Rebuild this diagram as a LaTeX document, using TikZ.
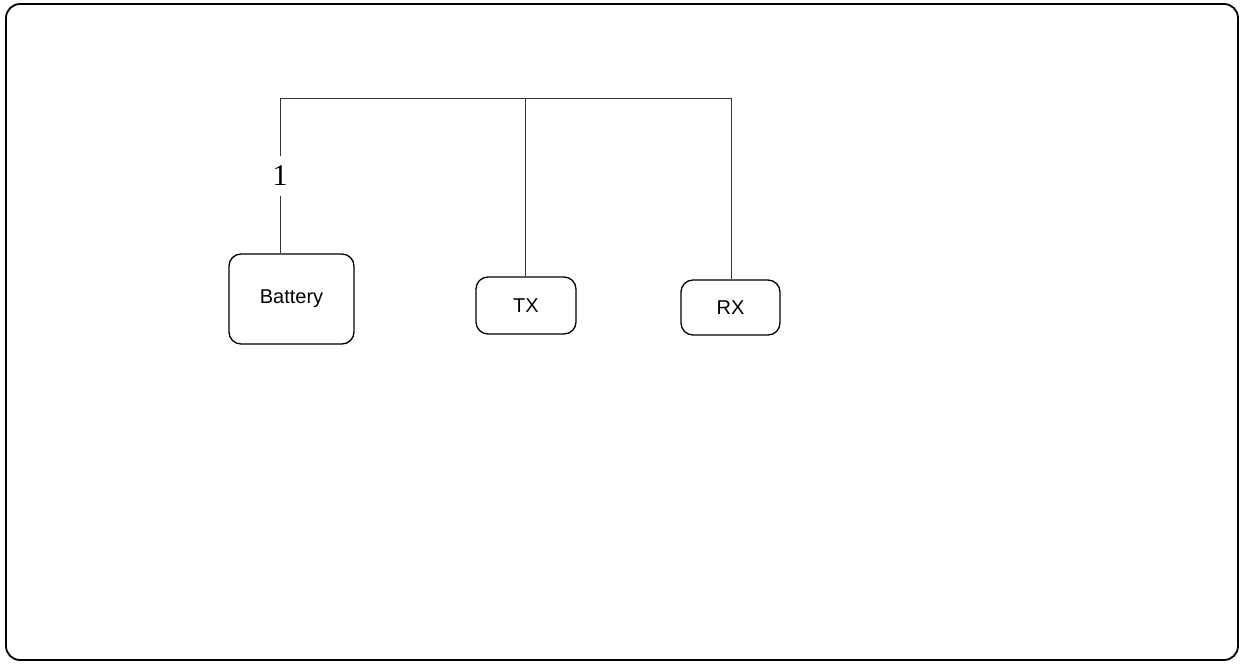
\documentclass[tikz,border=0pt]{standalone}
\usepackage{fontspec}
\newfontfamily\arialfont{Liberation Sans}
\newfontfamily\timesfont{Liberation Serif}
\begin{document}
\begin{tikzpicture}[x=1pt,y=-1pt,
  box/.style={draw=black,line width=1.3pt,rounded corners=12pt,inner sep=0pt,font=\arialfont\fontsize{20}{22}\selectfont},
  wire/.style={draw=black!80,line width=0.9pt},
  numlabel/.style={fill=white,inner sep=0pt,minimum height=40pt,font=\timesfont\fontsize{30}{32}\selectfont}]
\useasboundingbox (0,0) rectangle (1243,665);
\draw[line width=1.8pt,rounded corners=14pt] (6,4) rectangle (1238,660);
\node[box,minimum width=125pt,minimum height=90pt] (bat) at (291.5,299) {Battery};
\node[box,minimum width=100pt,minimum height=57pt] (tx) at (526,305.5) {TX};
\node[box,minimum width=99pt,minimum height=55pt] (rx) at (730.5,307.5) {RX};
\coordinate (b1) at (280,98);
\coordinate (b2) at (525,98);
\coordinate (b3) at (731,98);
\node[numlabel] (l1) at (280,176) {1};
\draw[wire] (b1) -- (b3);
\draw[wire] (b1) -- (l1.north);
\draw[wire] (l1.south) -- (b1 |- bat.north);
\draw[wire] (b2) -- (b2 |- tx.north);
\draw[wire] (b3) -- (b3 |- rx.north);
\end{tikzpicture}
\end{document}
